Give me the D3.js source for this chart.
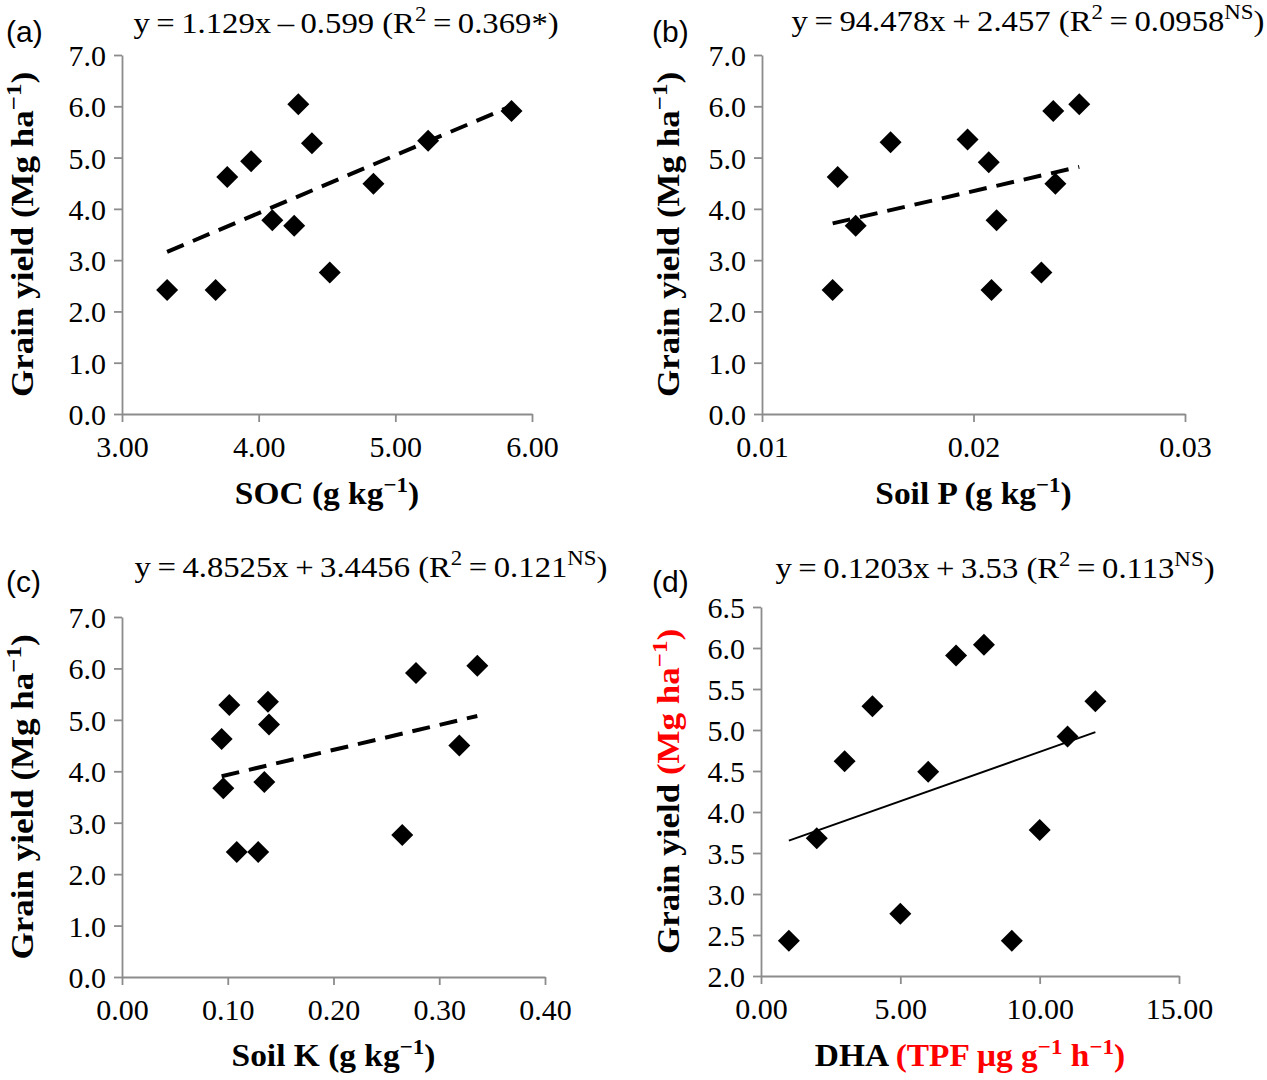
<!DOCTYPE html>
<html>
<head>
<meta charset="utf-8">
<script src="https://cdn.jsdelivr.net/npm/d3@7"></script>
<style>
  html, body { margin: 0; padding: 0; background: #fff; }
  svg { display: block; }
</style>
</head>
<body>
<div id="chart"></div>
<script>
// ---- Data ----
// (a) SOC vs grain yield
const socValues = [3.33, 3.685, 3.77, 3.945, 4.10, 4.26, 4.29, 4.39, 4.52, 4.84, 5.24, 5.85];
const socYield  = [2.42, 2.42, 4.62, 4.93, 3.78, 3.67, 6.04, 5.28, 2.76, 4.49, 5.33, 5.91];
// (b) Soil P vs grain yield
const soilPValues = [0.01334, 0.01358, 0.01443, 0.01608, 0.01972, 0.02072, 0.02085, 0.02109, 0.02321, 0.02377, 0.02387, 0.0250];
const soilPYield  = [2.42, 4.62, 3.67, 5.30, 5.35, 4.91, 2.42, 3.78, 2.76, 5.91, 4.49, 6.04];
// (c) Soil K vs grain yield
const soilKValues = [0.0942, 0.0958, 0.1015, 0.1085, 0.1288, 0.1346, 0.138, 0.139, 0.265, 0.278, 0.319, 0.336];
const soilKYield  = [4.63, 3.67, 5.29, 2.43, 2.43, 3.79, 5.35, 4.91, 2.76, 5.91, 4.50, 6.05];
// (d) DHA vs grain yield
const dhaValues = [1, 2, 3, 4, 5, 6, 7, 8, 9, 10, 11, 12];
const dhaYield  = [2.43, 3.68, 4.62, 5.29, 2.76, 4.49, 5.91, 6.04, 2.43, 3.78, 4.92, 5.35];

// Tick values
const socTicks = [3, 4, 5, 6];
const soilPTicks = [0.01, 0.02, 0.03];
const soilKTicks = [0, 0.1, 0.2, 0.3, 0.4];
const dhaTicks = [0, 5, 10, 15];
const yieldTicks = [0, 1, 2, 3, 4, 5, 6, 7];
const dhaYieldTicks = [2.0, 2.5, 3.0, 3.5, 4.0, 4.5, 5.0, 5.5, 6.0, 6.5];

// Regression lines (slope, intercept) as printed above each panel
const trendSlopes = [1.129, 94.478, 4.8525, 0.1203];
const trendIntercepts = [-0.599, 2.457, 3.4456, 3.53];

const panelLetters = ['(a)', '(b)', '(c)', '(d)'];

const RED = '#ff0000';
const SERIF = '"Liberation Serif", "Times New Roman", serif';
const SANS = '"Liberation Sans", Arial, sans-serif';

// Equation titles, split so the superscripts can be raised
const T = '\u2009';
const titles = [
    [{ t: `y${T}=${T}1.129x${T}\u2013${T}0.599 (R` }, { t: '2', sup: true }, { t: `${T}=${T}0.369*)` }],
    [{ t: `y${T}=${T}94.478x${T}+${T}2.457 (R` }, { t: '2', sup: true }, { t: `${T}=${T}0.0958` }, { t: 'NS', sup: true }, { t: ')' }],
    [{ t: `y${T}=${T}4.8525x${T}+${T}3.4456 (R` }, { t: '2', sup: true }, { t: `${T}=${T}0.121` }, { t: 'NS', sup: true }, { t: ')' }],
    [{ t: `y${T}=${T}0.1203x${T}+${T}3.53 (R` }, { t: '2', sup: true }, { t: `${T}=${T}0.113` }, { t: 'NS', sup: true }, { t: ')' }]
];

const yLabelBlack = [{ t: 'Grain yield (Mg ha' }, { t: '\u22121', sup: true }, { t: ')' }];
const yLabelRed = [{ t: 'Grain yield ' }, { t: '(Mg ha', c: RED }, { t: '\u22121', sup: true, c: RED }, { t: ')', c: RED }];

const xLabels = [
    [{ t: 'SOC (g kg' }, { t: '\u22121', sup: true }, { t: ')' }],
    [{ t: 'Soil P (g kg' }, { t: '\u22121', sup: true }, { t: ')' }],
    [{ t: 'Soil K (g kg' }, { t: '\u22121', sup: true }, { t: ')' }],
    [{ t: 'DHA ' }, { t: '(TPF \u03bcg g', c: RED }, { t: '\u22121', sup: true, c: RED }, { t: ' h', c: RED }, { t: '\u22121', sup: true, c: RED }, { t: ')', c: RED }]
];

// ---- Layout (pixel boxes of each plot area) ----
const panels = [
    { xs: socValues, ys: socYield, xDomain: [3, 6], xTicks: socTicks, xFmt: d3.format('.2f'),
      yDomain: [0, 7], yTicks: yieldTicks, box: { l: 122, r: 532, t: 55, b: 414 },
      titleX: 346, titleY: 33, letterX: 6, letterY: 42, yLabX: 33, xLabY: 504,
      yLab: yLabelBlack, dashed: true },
    { xs: soilPValues, ys: soilPYield, xDomain: [0.01, 0.03], xTicks: soilPTicks, xFmt: d3.format('.2f'),
      yDomain: [0, 7], yTicks: yieldTicks, box: { l: 762, r: 1185, t: 55, b: 414 },
      titleX: 1028, titleY: 31, letterX: 652, letterY: 42, yLabX: 679, xLabY: 504,
      yLab: yLabelBlack, dashed: true },
    { xs: soilKValues, ys: soilKYield, xDomain: [0, 0.4], xTicks: soilKTicks, xFmt: d3.format('.2f'),
      yDomain: [0, 7], yTicks: yieldTicks, box: { l: 122, r: 545, t: 617, b: 977 },
      titleX: 371, titleY: 577, letterX: 6, letterY: 592, yLabX: 33, xLabY: 1066,
      yLab: yLabelBlack, dashed: true },
    { xs: dhaValues, ys: dhaYield, xDomain: [0, 15], xTicks: dhaTicks, xFmt: d3.format('.2f'),
      yDomain: [2, 6.5], yTicks: dhaYieldTicks, box: { l: 761, r: 1179, t: 607, b: 976 },
      titleX: 995, titleY: 578, letterX: 652, letterY: 592, yLabX: 679, xLabY: 1066,
      yLab: yLabelRed, dashed: false }
];

const svg = d3.select('#chart').append('svg')
    .attr('width', 1267)
    .attr('height', 1080)
    .style('background', '#fff');

/**
 * Append pieces of text as tspans, raising the superscript ones
 */
function richText(textSel, pieces, supSize, supShift) {
    let shifted = 0;
    pieces.forEach(p => {
        const ts = textSel.append('tspan').text(p.t);
        const target = p.sup ? -supShift : 0;
        if (target !== shifted) {
            ts.attr('dy', target - shifted);
            shifted = target;
        }
        if (p.sup) ts.attr('font-size', supSize);
        if (p.c) ts.attr('fill', p.c);
    });
}

/**
 * Draw one scatter panel with its axes, markers and trend line
 */
function drawPanel(cfg, i) {
    const g = svg.append('g').attr('class', 'panel');
    const x = d3.scaleLinear().domain(cfg.xDomain).range([cfg.box.l, cfg.box.r]);
    const y = d3.scaleLinear().domain(cfg.yDomain).range([cfg.box.b, cfg.box.t]);

    // axes
    const xAxis = d3.axisBottom(x).tickValues(cfg.xTicks).tickFormat(cfg.xFmt)
        .tickSizeInner(8).tickSizeOuter(0);
    const yAxis = d3.axisLeft(y).tickValues(cfg.yTicks).tickFormat(d3.format('.1f'))
        .tickSizeInner(8).tickSizeOuter(0);

    const gx = g.append('g').attr('transform', `translate(0,${cfg.box.b})`).call(xAxis);
    const gy = g.append('g').attr('transform', `translate(${cfg.box.l},0)`).call(yAxis);

    [gx, gy].forEach(a => {
        a.select('.domain').attr('stroke', '#8c8c8c').attr('stroke-width', 1.8);
        a.selectAll('.tick line').attr('stroke', '#8c8c8c').attr('stroke-width', 1.8);
        a.selectAll('.tick text')
            .attr('fill', '#000')
            .style('font-family', SERIF)
            .style('font-size', '30px');
    });
    gx.selectAll('.tick text').attr('y', 43).attr('dy', null);
    gy.selectAll('.tick text').attr('x', -16).attr('dy', '0.35em');

    // trend line over the data range
    const x0 = d3.min(cfg.xs), x1 = d3.max(cfg.xs);
    const trend = [x0, x1].map(v => [v, trendSlopes[i] * v + trendIntercepts[i]]);
    g.append('path')
        .datum(trend)
        .attr('fill', 'none')
        .attr('stroke', '#000')
        .attr('stroke-width', cfg.dashed ? 4 : 2)
        .attr('stroke-dasharray', cfg.dashed ? '18,10' : null)
        .attr('d', d3.line().x(d => x(d[0])).y(d => y(d[1])));

    // diamond markers
    const r = 11;
    g.selectAll('path.pt')
        .data(cfg.xs.map((v, k) => [v, cfg.ys[k]]))
        .enter()
        .append('path')
        .attr('class', 'pt')
        .attr('fill', '#000')
        .attr('d', d => {
            const cx = x(d[0]), cy = y(d[1]);
            return `M${cx},${cy - r}L${cx + r},${cy}L${cx},${cy + r}L${cx - r},${cy}Z`;
        });

    // equation above the plot (glyphs a little wider than Liberation Serif)
    const title = g.append('text')
        .attr('transform', `translate(${cfg.titleX},${cfg.titleY}) scale(1.09,1)`)
        .attr('text-anchor', 'middle')
        .style('font-family', SERIF)
        .style('font-size', '30px');
    richText(title, titles[i], '21px', 12);

    // panel letter
    g.append('text')
        .attr('x', cfg.letterX).attr('y', cfg.letterY)
        .style('font-family', SANS)
        .style('font-size', '30px')
        .text(panelLetters[i]);

    // y axis label
    const yl = g.append('text')
        .attr('transform', `translate(${cfg.yLabX},${(cfg.box.t + cfg.box.b) / 2}) rotate(-90) scale(1.13,1)`)
        .attr('text-anchor', 'middle')
        .style('font-family', SERIF)
        .style('font-weight', 'bold')
        .style('font-size', '31px');
    richText(yl, cfg.yLab, '22px', 12);

    // x axis label
    const xl = g.append('text')
        .attr('transform', `translate(${(cfg.box.l + cfg.box.r) / 2},${cfg.xLabY}) scale(1.045,1)`)
        .attr('text-anchor', 'middle')
        .style('font-family', SERIF)
        .style('font-weight', 'bold')
        .style('font-size', '32px');
    richText(xl, xLabels[i], '22px', 12);
}

panels.forEach(drawPanel);
</script>
</body>
</html>
